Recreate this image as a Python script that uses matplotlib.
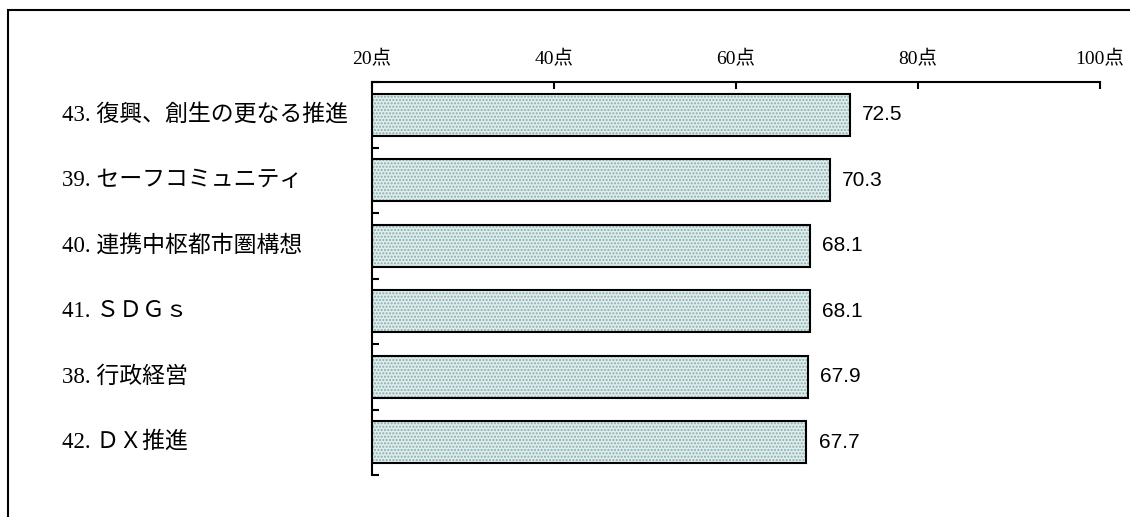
import matplotlib
matplotlib.use('Agg')
import matplotlib.pyplot as plt
from matplotlib import transforms
from matplotlib.patches import Rectangle
import numpy as np

labels = ['43. 復興、創生の更なる推進', '39. セーフコミュニティ', '40. 連携中枢都市圏構想',
          '41. ＳＤＧｓ', '38. 行政経営', '42. ＤＸ推進']
values = [72.5, 70.3, 68.1, 68.1, 67.9, 67.7]
ticks = [20, 40, 60, 80, 100]
tick_labels = ['20点', '40点', '60点', '80点', '100点']

jp_font = ['Liberation Serif', 'Noto Sans CJK JP', 'DejaVu Sans']
num_font = ['Liberation Sans Narrow', 'Liberation Sans', 'DejaVu Sans']

fig = plt.figure(figsize=(11.3, 5.17), dpi=100)
ax = fig.add_axes([372 / 1130, 1 - 475 / 517, 728 / 1130, 393 / 517])

# outer frame (only left and top are inside the picture)
fig.patches.append(Rectangle((8 / 1130, -0.1), 1.2, 1 - 10 / 517 + 0.1,
                             transform=fig.transFigure, fill=False,
                             edgecolor='black', linewidth=1.5))

y = np.arange(len(values))
# dotted fill, then black outline on top
ax.barh(y, [v - 20 for v in values], left=20, height=0.64, color='#dceeee',
        edgecolor='#8fa9a9', hatch='.....', linewidth=0, zorder=2)
ax.barh(y, [v - 20 for v in values], left=20, height=0.64, fill=False,
        edgecolor='black', linewidth=1.5, zorder=3)

for yi, v in zip(y, values):
    ax.annotate(f'{v:.1f}', (v, yi), xytext=(9, 0), textcoords='offset points',
                va='center', ha='left', fontsize=15, family=num_font)

trans = transforms.blended_transform_factory(fig.transFigure, ax.transData)
for yi, lab in zip(y, labels):
    ax.text(62 / 1130, yi, lab, transform=trans, ha='left', va='center',
            fontsize=16.5, family=jp_font)

ax.set_xlim(20, 100)
ax.set_ylim(len(values) - 0.5, -0.5)
ax.xaxis.tick_top()
ax.set_xticks(ticks)
ax.set_xticklabels(tick_labels, family=jp_font, fontsize=14)
ax.tick_params(axis='x', direction='in', length=5, width=1.5, pad=10)
ax.set_yticks(np.arange(len(values) + 1) - 0.5)
ax.set_yticklabels([])
ax.tick_params(axis='y', direction='in', length=5, width=1.5)

for s in ['right', 'bottom']:
    ax.spines[s].set_visible(False)
for s in ['top', 'left']:
    ax.spines[s].set_linewidth(1.5)

fig.savefig('out.png', dpi=100)
